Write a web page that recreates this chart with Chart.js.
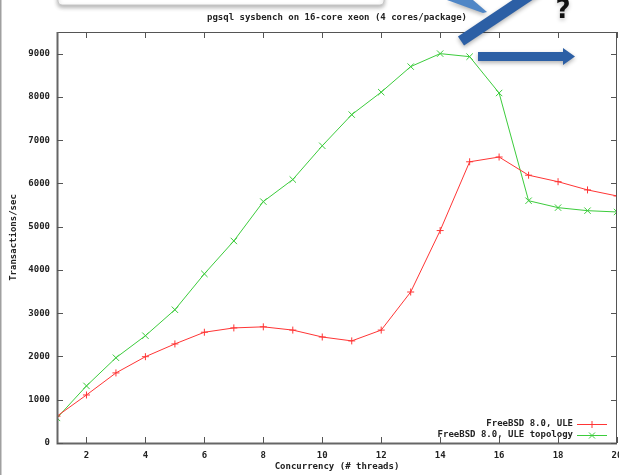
<!DOCTYPE html>
<html>
<head>
<meta charset="utf-8">
<script src="https://cdn.jsdelivr.net/npm/chart.js@4.4.0/dist/chart.umd.min.js"></script>
<style>
  html, body { margin: 0; padding: 0; background: #fff; }
</style>
</head>
<body>
<canvas id="sysbench" width="619" height="475"></canvas>
<script>
// data
const threads = [1, 2, 3, 4, 5, 6, 7, 8, 9, 10, 11, 12, 13, 14, 15, 16, 17, 18, 19, 20];
const uleTps = [620, 1110, 1620, 1995, 2290, 2560, 2660, 2685, 2610, 2450, 2360, 2610, 3490, 4910, 6500, 6610, 6190, 6040, 5850, 5710];
const topoTps = [580, 1320, 1970, 2480, 3080, 3910, 4670, 5580, 6090, 6870, 7590, 8110, 8700, 9000, 8930, 8090, 5600, 5440, 5370, 5340];
const xTicks = [2, 4, 6, 8, 10, 12, 14, 16, 18, 20];
const yTicks = [0, 1000, 2000, 3000, 4000, 5000, 6000, 7000, 8000, 9000];
const seriesNames = ['FreeBSD 8.0, ULE', 'FreeBSD 8.0, ULE topology'];
const chartTitle = 'pgsql sysbench on 16-core xeon (4 cores/package)';

const mono = '"DejaVu Sans Mono", "Liberation Mono", monospace';
const red = '#ff3535';
const green = '#3ccc3c';
const blue = '#2c5fa5';

function marker(ctx, style, cx, cy, r) {
    ctx.beginPath();
    if (style === 'cross') {
        ctx.moveTo(cx - r, cy); ctx.lineTo(cx + r, cy);
        ctx.moveTo(cx, cy - r); ctx.lineTo(cx, cy + r);
    } else {
        ctx.moveTo(cx - r, cy - r); ctx.lineTo(cx + r, cy + r);
        ctx.moveTo(cx - r, cy + r); ctx.lineTo(cx + r, cy - r);
    }
    ctx.stroke();
}

const decor = {
    id: 'decor',
    beforeDraw(chart) {
        const ctx = chart.ctx;
        ctx.save();
        ctx.fillStyle = '#fff';
        ctx.fillRect(0, 0, chart.width, chart.height);
        ctx.restore();
    },
    afterDraw(chart) {
        const { ctx, chartArea: a, scales: { x, y } } = chart;
        ctx.save();

        // plot border + inward ticks (gnuplot style)
        ctx.strokeStyle = '#555';
        ctx.lineWidth = 1;
        ctx.strokeRect(a.left + 0.5, a.top + 0.5, a.right - a.left - 1, a.bottom - a.top);
        ctx.strokeStyle = '#666';
        ctx.lineWidth = 2;
        ctx.beginPath();
        ctx.moveTo(a.left + 0.5, a.top); ctx.lineTo(a.left + 0.5, a.bottom + 0.5);
        ctx.lineTo(a.right, a.bottom + 0.5);
        ctx.stroke();
        ctx.strokeStyle = '#555';
        ctx.lineWidth = 1;
        ctx.beginPath();
        xTicks.forEach(v => {
            const px = Math.round(x.getPixelForValue(v)) + 0.5;
            ctx.moveTo(px, a.bottom); ctx.lineTo(px, a.bottom - 6);
            ctx.moveTo(px, a.top); ctx.lineTo(px, a.top + 6);
        });
        yTicks.forEach(v => {
            const py = Math.round(y.getPixelForValue(v)) + 0.5;
            ctx.moveTo(a.left, py); ctx.lineTo(a.left + 6, py);
            ctx.moveTo(a.right, py); ctx.lineTo(a.right - 6, py);
        });
        ctx.stroke();

        // title, centred over the plot like gnuplot does
        ctx.fillStyle = '#222';
        ctx.font = 'bold 9px ' + mono;
        ctx.textAlign = 'center';
        ctx.textBaseline = 'middle';
        ctx.fillText(chartTitle, (a.left + a.right) / 2, 18);

        // key, bottom right inside the plot
        const rows = [
            { label: seriesNames[0], color: red, style: 'cross' },
            { label: seriesNames[1], color: green, style: 'crossRot' }
        ];
        rows.forEach((r, i) => {
            const ly = a.bottom - 19 + i * 11;
            ctx.fillStyle = '#222';
            ctx.textAlign = 'right';
            ctx.fillText(r.label, a.right - 44, ly);
            ctx.strokeStyle = r.color;
            ctx.lineWidth = 1;
            ctx.beginPath();
            ctx.moveTo(a.right - 40, ly + 0.5); ctx.lineTo(a.right - 10, ly + 0.5);
            ctx.stroke();
            marker(ctx, r.style, a.right - 25, ly + 0.5, r.style === 'cross' ? 3.5 : 3);
        });

        // slide frame on the left edge
        ctx.fillStyle = '#a0a0a0';
        ctx.fillRect(0, 0, 1.5, chart.height);

        // callout box peeking from the top
        ctx.shadowColor = 'rgba(0,0,0,0.3)';
        ctx.shadowBlur = 4;
        ctx.shadowOffsetY = 2;
        ctx.fillStyle = '#fff';
        ctx.strokeStyle = '#c8c8c8';
        ctx.beginPath();
        ctx.roundRect(58, -20, 326, 25, 4);
        ctx.fill();
        ctx.stroke();

        // callout pointer wedge
        ctx.fillStyle = '#4f86c6';
        ctx.beginPath();
        ctx.moveTo(447, 0); ctx.lineTo(473, 0); ctx.lineTo(487, 12); ctx.lineTo(483, 13);
        ctx.closePath();
        ctx.fill();

        // diagonal arrow
        ctx.strokeStyle = blue;
        ctx.lineWidth = 11;
        ctx.lineCap = 'butt';
        ctx.beginPath();
        ctx.moveTo(461, 41); ctx.lineTo(548, -17);
        ctx.stroke();

        // horizontal arrow
        ctx.fillStyle = blue;
        ctx.beginPath();
        ctx.moveTo(478, 52); ctx.lineTo(563, 52); ctx.lineTo(563, 48);
        ctx.lineTo(575, 56.5);
        ctx.lineTo(563, 65); ctx.lineTo(563, 61); ctx.lineTo(478, 61);
        ctx.closePath();
        ctx.fill();

        // question mark
        ctx.shadowColor = 'rgba(0,0,0,0.25)';
        ctx.fillStyle = '#111';
        ctx.font = 'bold 26px "DejaVu Sans", sans-serif';
        ctx.textAlign = 'center';
        ctx.textBaseline = 'alphabetic';
        ctx.fillText('?', 563, 18);

        ctx.restore();
    }
};

const ctx = document.getElementById('sysbench').getContext('2d');

new Chart(ctx, {
    type: 'line',
    data: {
        datasets: [{
            label: seriesNames[0],
            data: threads.map((t, i) => ({ x: t, y: uleTps[i] })),
            borderColor: red,
            borderWidth: 1,
            pointStyle: 'cross',
            pointRadius: 3.5,
            pointBorderColor: red,
            pointBorderWidth: 1,
            tension: 0
        }, {
            label: seriesNames[1],
            data: threads.map((t, i) => ({ x: t, y: topoTps[i] })),
            borderColor: green,
            borderWidth: 1,
            pointStyle: 'crossRot',
            pointRadius: 4.5,
            pointBorderColor: green,
            pointBorderWidth: 1,
            tension: 0
        }]
    },
    options: {
        responsive: false,
        animation: false,
        devicePixelRatio: 1,
        layout: { autoPadding: false, padding: { top: 32, right: 2, left: 0, bottom: 0 } },
        scales: {
            x: {
                type: 'linear',
                min: 1,
                max: 20,
                grid: { display: false, drawTicks: false },
                border: { display: false },
                ticks: {
                    stepSize: 2,
                    padding: 7,
                    maxRotation: 0,
                    autoSkip: false,
                    color: '#222',
                    font: { family: mono, size: 9, weight: 'bold' },
                    callback: v => String(v)
                },
                afterBuildTicks: s => { s.ticks = xTicks.map(v => ({ value: v })); },
                afterFit: s => { s.height = 32; s.paddingLeft = 0; s.paddingRight = 0; },
                title: {
                    display: true,
                    text: 'Concurrency (# threads)',
                    color: '#222',
                    padding: { top: 0, bottom: 2.6 },
                    font: { family: mono, size: 9, weight: 'bold' }
                }
            },
            y: {
                type: 'linear',
                min: 0,
                max: 9500,
                grid: { display: false, drawTicks: false },
                border: { display: false },
                ticks: {
                    stepSize: 1000,
                    padding: 7,
                    autoSkip: false,
                    color: '#222',
                    font: { family: mono, size: 9, weight: 'bold' },
                    callback: v => String(v)
                },
                afterBuildTicks: s => { s.ticks = yTicks.map(v => ({ value: v })); },
                afterFit: s => { s.width = 57; s.paddingTop = 0; s.paddingBottom = 0; },
                title: {
                    display: true,
                    text: 'Transactions/sec',
                    color: '#222',
                    padding: { top: 8.6, bottom: 0 },
                    font: { family: mono, size: 9, weight: 'bold' }
                }
            }
        },
        plugins: {
            legend: { display: false },
            title: { display: false },
            tooltip: { enabled: false }
        }
    },
    plugins: [decor]
});
</script>
</body>
</html>
